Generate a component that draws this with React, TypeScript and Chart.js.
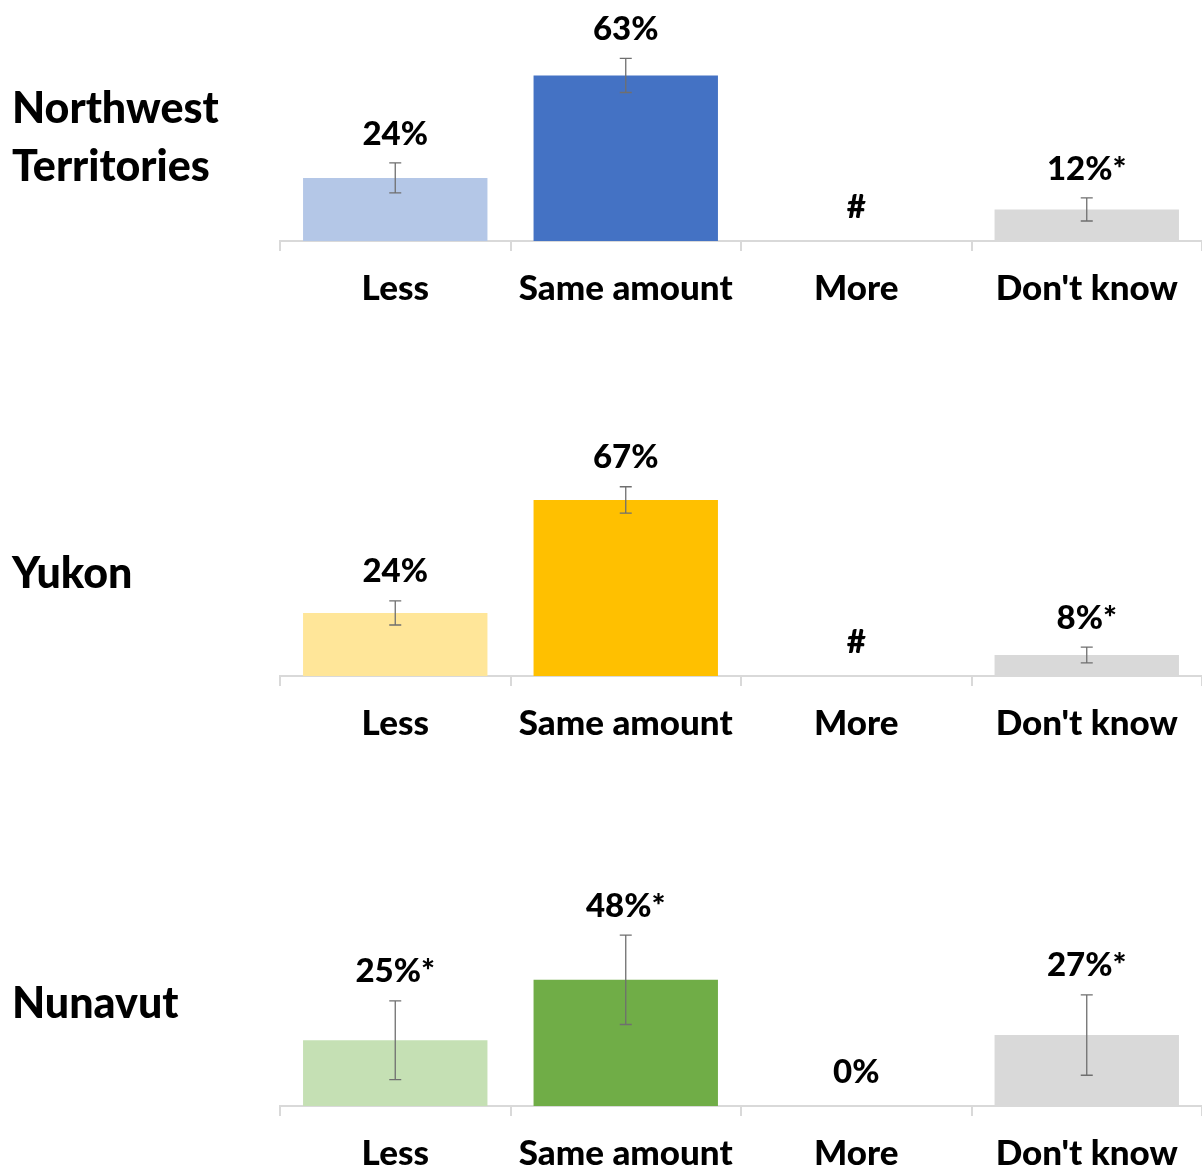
import React, { useEffect, useRef } from "react";
import { Chart, registerables } from "chart.js";

Chart.register(...registerables);

const categories = ["Less", "Same amount", "More", "Don't know"];

const nwtValues = [24, 63, 0, 12];
const nwtErrors = [5.7, 6.5, 0, 4.4];
const nwtLabels = ["24%", "63%", "#", "12%*"];
const nwtColors = ["#b4c7e7", "#4472c4", "#d9d9d9", "#d9d9d9"];

const yukonValues = [24, 67, 0, 8];
const yukonErrors = [4.6, 5, 0, 3];
const yukonLabels = ["24%", "67%", "#", "8%*"];
const yukonColors = ["#ffe699", "#ffc000", "#d9d9d9", "#d9d9d9"];

const nunavutValues = [25, 48, 0, 27];
const nunavutErrors = [15, 17, 0, 15.3];
const nunavutLabels = ["25%*", "48%*", "0%", "27%*"];
const nunavutColors = ["#c5e0b4", "#70ad47", "#d9d9d9", "#d9d9d9"];

const FONT = "Lato, 'Open Sans', sans-serif";

type PanelProps = {
  top: number;
  values: number[];
  errors: number[];
  labels: string[];
  colors: string[];
};

const errorLabelPlugin = {
  id: "errorLabels",
  afterDatasetsDraw(chart: any) {
    const ctx = chart.ctx;
    const meta = chart.getDatasetMeta(0);
    const ds = chart.data.datasets[0];
    const yScale = chart.scales.y;
    const errs: number[] = ds.errors;
    const labs: string[] = ds.labelsText;
    ctx.save();
    meta.data.forEach((bar: any, i: number) => {
      const v = ds.data[i];
      const e = errs[i];
      const x = bar.x;
      if (e > 0) {
        const yt = yScale.getPixelForValue(v + e);
        const yb = yScale.getPixelForValue(v - e);
        ctx.strokeStyle = "#6f6f6f";
        ctx.lineWidth = 1.3;
        ctx.beginPath();
        ctx.moveTo(x, yt);
        ctx.lineTo(x, yb);
        ctx.moveTo(x - 6, yt);
        ctx.lineTo(x + 6, yt);
        ctx.moveTo(x - 6, yb);
        ctx.lineTo(x + 6, yb);
        ctx.stroke();
      }
      const ly = v + e > 0 ? yScale.getPixelForValue(v + e) - 29 : yScale.getPixelForValue(0) - 34;
      ctx.fillStyle = "#000";
      ctx.font = `900 33px ${FONT}`;
      ctx.textAlign = "center";
      ctx.textBaseline = "middle";
      ctx.fillText(labs[i], x, ly);
    });
    ctx.restore();
  },
};

const PAD_TOP = 50;
const AREA_H = 184;
const AXIS_H = 70;
const YMAX = 70;

function Panel({ top, values, errors, labels, colors }: PanelProps) {
  const ref = useRef<HTMLCanvasElement>(null);
  useEffect(() => {
    if (!ref.current) return;
    const chart = new Chart(ref.current, {
      type: "bar",
      data: {
        labels: categories,
        datasets: [
          {
            data: values,
            backgroundColor: colors,
            borderWidth: 0,
            barPercentage: 0.8,
            categoryPercentage: 1,
            errors: errors,
            labelsText: labels,
          } as any,
        ],
      },
      options: {
        animation: false,
        responsive: false,
        maintainAspectRatio: false,
        layout: { padding: { top: PAD_TOP, left: 280, right: 0, bottom: 0 } },
        plugins: { legend: { display: false }, tooltip: { enabled: false } },
        scales: {
          x: {
            offset: true,
            afterFit: (s: any) => {
              s.height = AXIS_H;
            },
            grid: {
              offset: true,
              drawOnChartArea: false,
              drawTicks: true,
              tickLength: 10,
              color: "#d9d9d9",
              lineWidth: 2,
            },
            border: { display: true, color: "#d9d9d9", width: 2 },
            ticks: {
              color: "#000",
              font: { family: FONT, size: 35, weight: "900" },
              padding: 17,
              maxRotation: 0,
            },
          },
          y: {
            display: false,
            min: 0,
            max: YMAX,
          },
        },
      },
      plugins: [errorLabelPlugin],
    });
    return () => chart.destroy();
  }, []);
  return (
    <canvas
      ref={ref}
      width={1202}
      height={PAD_TOP + AREA_H + AXIS_H}
      style={{ position: "absolute", left: 0, top, width: 1202, height: PAD_TOP + AREA_H + AXIS_H }}
    />
  );
}

const titleStyle: React.CSSProperties = {
  position: "absolute",
  left: 12,
  fontFamily: FONT,
  fontWeight: 900,
  fontSize: 43,
  lineHeight: "58px",
  color: "#000",
  margin: 0,
  whiteSpace: "nowrap",
};

export default function App() {
  useEffect(() => {
    document.body.style.margin = "0";
    document.body.style.overflow = "hidden";
  }, []);
  return (
    <div style={{ position: "relative", width: 1202, height: 1169, overflow: "hidden", background: "#fff" }}>
      <Panel top={241 - AREA_H - PAD_TOP} values={nwtValues} errors={nwtErrors} labels={nwtLabels} colors={nwtColors} />
      <Panel top={676 - AREA_H - PAD_TOP} values={yukonValues} errors={yukonErrors} labels={yukonLabels} colors={yukonColors} />
      <Panel top={1106 - AREA_H - PAD_TOP} values={nunavutValues} errors={nunavutErrors} labels={nunavutLabels} colors={nunavutColors} />
      <div style={{ ...titleStyle, top: 108 - 30 }}>
        Northwest
        <br />
        Territories
      </div>
      <div style={{ ...titleStyle, top: 573 - 30 }}>Yukon</div>
      <div style={{ ...titleStyle, top: 1003 - 30 }}>Nunavut</div>
    </div>
  );
}
